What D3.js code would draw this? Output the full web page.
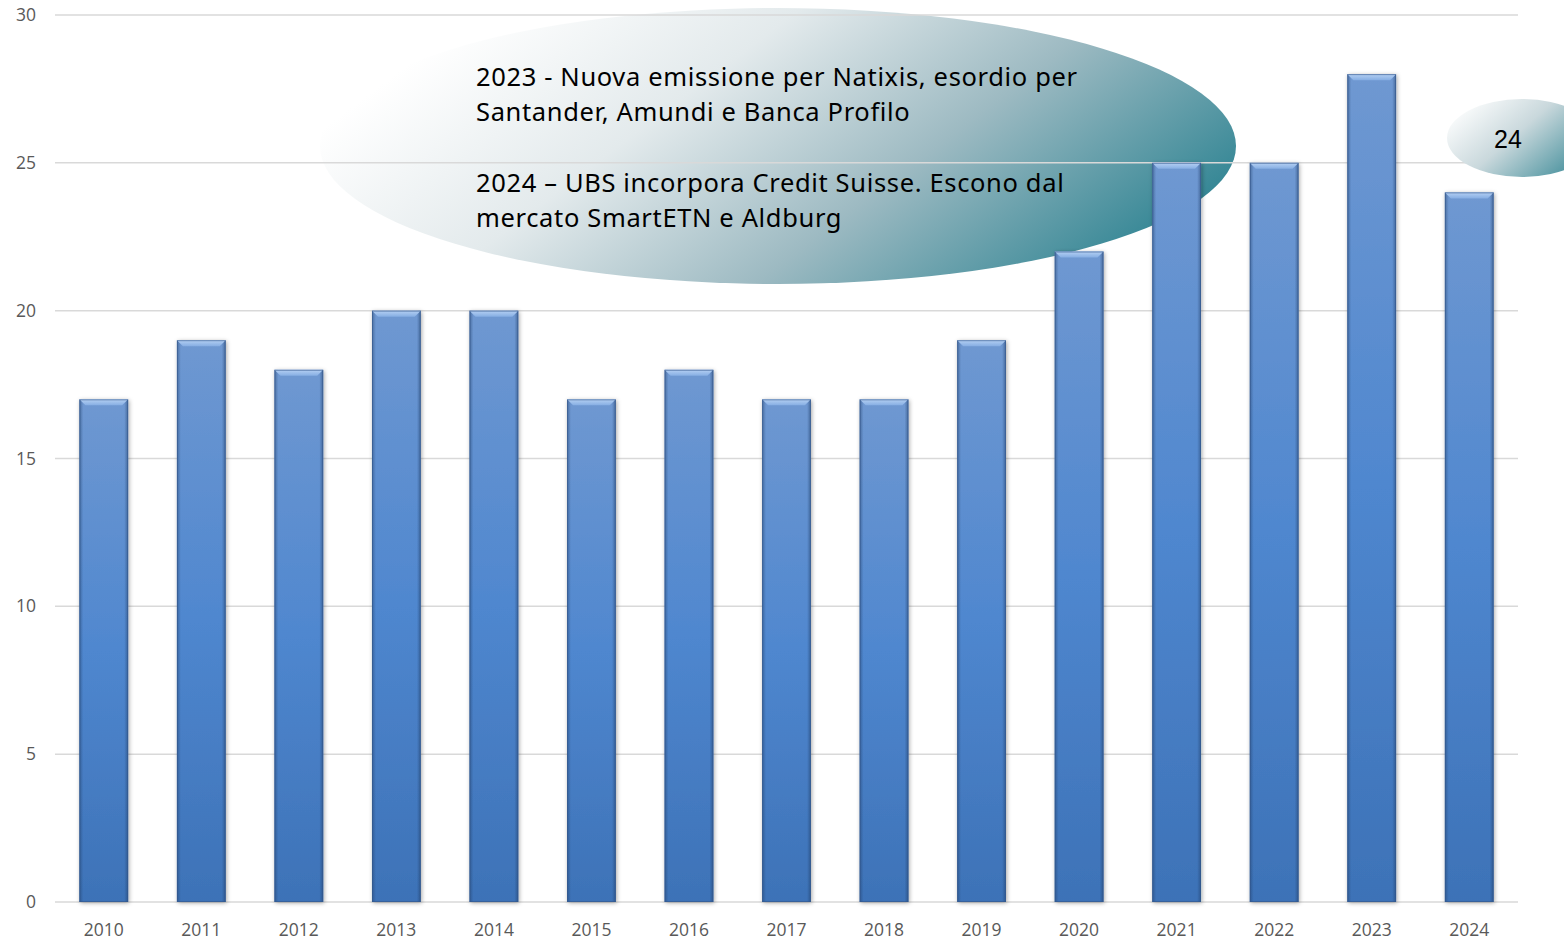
<!DOCTYPE html>
<html><head><meta charset="utf-8">
<script src="https://cdn.jsdelivr.net/npm/d3@7"></script>
<style>html,body{margin:0;padding:0;background:#fff;}svg{display:block;}</style>
</head><body>
<svg id="chart" width="1564" height="941"></svg>
<script>
const years = ["2010","2011","2012","2013","2014","2015","2016","2017","2018","2019","2020","2021","2022","2023","2024"];
const values = [17,19,18,20,20,17,18,17,17,19,22,25,25,28,24];
const yTicks = [0,5,10,15,20,25,30];
const noteLines = ["2023 - Nuova emissione per Natixis, esordio per","Santander, Amundi e Banca Profilo","","2024 \u2013 UBS incorpora Credit Suisse. Escono dal","mercato SmartETN e Aldburg"];
const bubbleLabel = "24";

const svg = d3.select("#chart");
const x = d3.scaleBand().domain(years).range([55,1518]).paddingInner(0.5).paddingOuter(0.25);
const y = d3.scaleLinear().domain([0,30]).range([902,15]);

const defs = svg.append("defs");
const eg = defs.append("linearGradient").attr("id","ellG").attr("x1","0").attr("y1","0.3").attr("x2","1").attr("y2","0.7");
eg.append("stop").attr("offset","0.05").attr("stop-color","#ffffff");
eg.append("stop").attr("offset","0.35").attr("stop-color","#e3eaec");
eg.append("stop").attr("offset","0.65").attr("stop-color","#9dbac2");
eg.append("stop").attr("offset","1").attr("stop-color","#2b8291");
const eg2 = defs.append("linearGradient").attr("id","ellG2").attr("x1","0").attr("y1","0.2").attr("x2","1").attr("y2","0.8");
eg2.append("stop").attr("offset","0").attr("stop-color","#ffffff");
eg2.append("stop").attr("offset","0.45").attr("stop-color","#c9d8dc");
eg2.append("stop").attr("offset","1").attr("stop-color","#3b8a97");
const bg = defs.append("linearGradient").attr("id","barG").attr("x1","0").attr("y1","0").attr("x2","0").attr("y2","1");
bg.append("stop").attr("offset","0").attr("stop-color","#6f98d1");
bg.append("stop").attr("offset","0.5").attr("stop-color","#4f87cf");
bg.append("stop").attr("offset","1").attr("stop-color","#3d72b7");
const sg = defs.append("linearGradient").attr("id","sideG").attr("x1","0").attr("y1","0").attr("x2","1").attr("y2","0");
sg.append("stop").attr("offset","0").attr("stop-color","#1f3c66").attr("stop-opacity","0.45");
sg.append("stop").attr("offset","0.08").attr("stop-color","#1f3c66").attr("stop-opacity","0");
sg.append("stop").attr("offset","0.92").attr("stop-color","#1f3c66").attr("stop-opacity","0");
sg.append("stop").attr("offset","1").attr("stop-color","#1f3c66").attr("stop-opacity","0.5");
const tg = defs.append("linearGradient").attr("id","topG").attr("x1","0").attr("y1","0").attr("x2","0").attr("y2","1");
tg.append("stop").attr("offset","0").attr("stop-color","#b5d0f3");
tg.append("stop").attr("offset","1").attr("stop-color","#86aee3");
const f = defs.append("filter").attr("id","sh").attr("x","-30%").attr("y","-5%").attr("width","160%").attr("height","110%");
f.append("feDropShadow").attr("dx",1).attr("dy",1).attr("stdDeviation",2).attr("flood-color","#000").attr("flood-opacity",0.35);

// big ellipse (behind)
svg.append("ellipse").attr("cx",778).attr("cy",146).attr("rx",458).attr("ry",138).attr("fill","url(#ellG)");

// gridlines
svg.append("g").selectAll("line").data(yTicks).join("line")
  .attr("x1",55).attr("x2",1518).attr("y1",d=>y(d)).attr("y2",d=>y(d))
  .attr("stroke","#d9d9d9").attr("stroke-width",1.5);

// y labels
svg.append("g").selectAll("text").data(yTicks).join("text")
  .attr("x",36).attr("y",d=>y(d)).attr("dy","0.35em").attr("text-anchor","end")
  .attr("font-family","'Open Sans', Lato, sans-serif").attr("font-size",17.5).attr("fill","#595959")
  .text(d=>d);

// x labels
svg.append("g").selectAll("text").data(years).join("text")
  .attr("x",d=>x(d)+x.bandwidth()/2).attr("y",936).attr("text-anchor","middle")
  .attr("font-family","'Open Sans', Lato, sans-serif").attr("font-size",17.5).attr("fill","#595959")
  .text(d=>d);

// bars
const bw = x.bandwidth();
const bars = svg.append("g").selectAll("g").data(years.map((d,i)=>({year:d,value:values[i]}))).join("g");
bars.append("rect").attr("x",d=>x(d.year)).attr("y",d=>y(d.value)).attr("width",bw).attr("height",d=>y(0)-y(d.value))
  .attr("fill","url(#barG)").attr("filter","url(#sh)");
bars.append("rect").attr("x",d=>x(d.year)).attr("y",d=>y(d.value)).attr("width",bw).attr("height",d=>y(0)-y(d.value))
  .attr("fill","url(#sideG)");
bars.append("path").attr("d",d=>{
  const x0=x(d.year), y0=y(d.value), b=6;
  return `M${x0},${y0}L${x0+bw},${y0}L${x0+bw-b},${y0+b}L${x0+b},${y0+b}Z`;
}).attr("fill","url(#topG)");
bars.append("rect").attr("x",d=>x(d.year)+0.5).attr("y",d=>y(d.value)+0.5).attr("width",bw-1).attr("height",d=>y(0)-y(d.value)-1)
  .attr("fill","none").attr("stroke","#34568a").attr("stroke-opacity",0.6).attr("stroke-width",1);

// note text
svg.append("g").selectAll("text").data(noteLines).join("text")
  .attr("x",476).attr("y",(d,i)=>86+i*35.3)
  .attr("font-family","'Noto Sans', 'Open Sans', sans-serif").attr("font-size",25.5).attr("letter-spacing","0.65px").attr("fill","#000")
  .text(d=>d);

// small bubble
svg.append("ellipse").attr("cx",1522).attr("cy",138).attr("rx",75).attr("ry",39).attr("fill","url(#ellG2)");
svg.append("text").attr("x",1508).attr("y",139).attr("dy","0.35em").attr("text-anchor","middle")
  .attr("font-family","'Liberation Sans', Arial, sans-serif").attr("font-size",25).attr("fill","#000").text(bubbleLabel);
</script>
</body></html>
